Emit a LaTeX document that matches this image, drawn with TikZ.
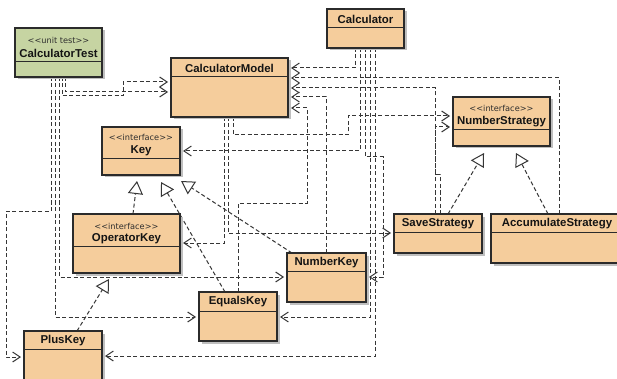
\documentclass[tikz,border=0pt]{standalone}
\usepackage{fontspec}
\newfontfamily\namefont{Liberation Sans}
\newfontfamily\stereofont{DejaVu Sans}
\usetikzlibrary{arrows.meta,shadows,fit,calc}

\definecolor{classfill}{HTML}{F5CD9C}
\definecolor{testfill}{HTML}{C6D4A2}
\definecolor{edgecol}{HTML}{2B2B2B}
\definecolor{linkcol}{HTML}{363636}

\pgfdeclarelayer{back}
\pgfsetlayers{back,main}

\tikzset{
  classbox/.style={draw=edgecol, line width=1.1pt, fill=classfill, inner sep=0pt, outer sep=0pt,
    drop shadow={shadow xshift=2.5pt, shadow yshift=-2.5pt, fill=black!25, opacity=1}},
  testbox/.style={classbox, fill=testfill},
  divider/.style={draw=edgecol, line width=0.9pt},
  classname/.style={font=\namefont\bfseries\fontsize{11.4}{13}\selectfont, text=black!92, inner sep=0pt},
  stereo/.style={font=\stereofont\fontsize{8.2}{10}\selectfont, text=black!82, inner sep=0pt},
  link/.style={draw=linkcol, line width=1pt, dash pattern=on 4pt off 2.5pt},
  dep/.style={link, shorten >=3pt, -{Straight Barb[length=7.5pt,width=10pt,line width=1pt]}},
  realize/.style={link, -{Triangle[open,length=13pt,width=15pt,fill=white,line width=1pt]}},
}

% class box: name, style, x1, y1, x2, y2, y of the compartment line
\newcommand\umlbox[7]{%
  \node[#2, fit={(#3,#4) (#5,#6)}] (#1) {};
  \draw[divider] (#1.west |- 0,#7) -- (#1.east |- 0,#7);
}

\begin{document}
\begin{tikzpicture}[x=1pt,y=-1pt]
\begin{pgfonlayer}{back}
  \fill[white] (0,0) rectangle (617,379);
\end{pgfonlayer}
\useasboundingbox (0,0) rectangle (617,379);
\clip (0,0) rectangle (617,379);

% classes
\umlbox{ct}{testbox}{15}{28}{102}{77}{61}
\umlbox{calc}{classbox}{327}{9}{404}{48}{27}
\umlbox{cm}{classbox}{171}{58}{288}{117}{76}
\umlbox{ns}{classbox}{453}{97}{550}{146}{129}
\umlbox{key}{classbox}{102}{127}{180}{175}{158}
\umlbox{op}{classbox}{73}{214}{180}{273}{246}
\umlbox{save}{classbox}{394}{214}{482}{253}{232}
\umlbox{acc}{classbox}{491}{214}{625}{263}{232}
\umlbox{nk}{classbox}{287}{253}{366}{302}{271}
\umlbox{eq}{classbox}{199}{292}{277}{341}{311}
\umlbox{plus}{classbox}{24}{331}{102}{392}{349}

% class titles
\node[stereo]    (ct-st)    at (58.5,40)  {<<unit test>>};
\node[classname] (ct-name)  at (58.5,53)  {CalculatorTest};
\node[classname] (calc-name) at (365.5,19) {Calculator};
\node[classname] (cm-name)  at (229.5,68) {CalculatorModel};
\node[stereo]    (ns-st)    at (501.5,108) {<<interface>>};
\node[classname] (ns-name)  at (501.5,122) {NumberStrategy};
\node[stereo]    (key-st)   at (141,137)  {<<interface>>};
\node[classname] (key-name) at (141,151)  {Key};
\node[stereo]    (op-st)    at (126.5,226) {<<interface>>};
\node[classname] (op-name)  at (126.5,239) {OperatorKey};
\node[classname] (save-name) at (438,224) {SaveStrategy};
\node[classname] (acc-name) at (557,224)  {AccumulateStrategy};
\node[classname] (nk-name)  at (326.5,263) {NumberKey};
\node[classname] (eq-name)  at (238,302)  {EqualsKey};
\node[classname] (plus-name) at (63,341)  {PlusKey};

\begin{pgfonlayer}{back}
% realizations
\draw[realize] (save.north -| 448,0) -- ($(ns.south -| 484,0)+(0,7)$);
\draw[realize] (acc.north -| 548,0) -- ($(ns.south -| 516,0)+(0,7)$);
\draw[realize] (op.north -| 133,0) -- ($(key.south -| 137,0)+(0,6)$);
\draw[realize] (eq.north -| 225,0) -- ($(key.south -| 161,0)+(0,7)$);
\draw[realize] (nk.north -| 292,0) -- ($(key.south -| 181,0)+(0,6)$);
\draw[realize] (plus.north -| 77,0) -- ($(op.south -| 109,0)+(0,6)$);

% Calculator dependencies
\draw[dep] (calc.south -| 355,0) |- (cm.east |- 0,68);
\draw[dep] (calc.south -| 360,0) |- (key.east |- 0,151);
\draw[dep] (calc.south -| 365,0) -- (365,157) -- (383,157) |- (nk.east |- 0,277);
\draw[dep] (calc.south -| 370,0) |- (eq.east |- 0,317);
\draw[dep] (calc.south -| 375,0) |- (plus.east |- 0,356);

% CalculatorTest dependencies
\draw[dep] (ct.south -| 65,0) |- (cm.west |- 0,92);
\draw[dep] (ct.south -| 62,0) -- (62,96) -- (123,96) |- (cm.west |- 0,82);
\draw[dep] (ct.south -| 59,0) |- (nk.west |- 0,277);
\draw[dep] (ct.south -| 55,0) |- (eq.west |- 0,317);
\draw[dep] (ct.south -| 51,0) -- (51,211) -- (6,211) |- (plus.west |- 0,357);

% CalculatorModel dependencies
\draw[dep] (cm.south -| 224,0) |- (op.east |- 0,243);
\draw[dep] (cm.south -| 228,0) |- (save.west |- 0,233);
\draw[dep] (cm.south -| 233,0) -- (233,135) -- (348,135) |- (ns.west |- 0,116);

% dependencies back to the model and to the strategy interface
\draw[dep] (acc.north -| 559,0) |- (cm.east |- 0,78);
\draw[dep] (save.north -| 440,0) -- (440,175) -- (435,175) |- (cm.east |- 0,88);
\draw[dep] (save.north -| 435,0) |- (ns.west |- 0,127);
\draw[dep] (nk.north -| 326,0) |- (cm.east |- 0,97);
\draw[dep] (eq.north -| 238,0) -- (238,203) -- (307,203) |- (cm.east |- 0,108);
\end{pgfonlayer}
\end{tikzpicture}
\end{document}
